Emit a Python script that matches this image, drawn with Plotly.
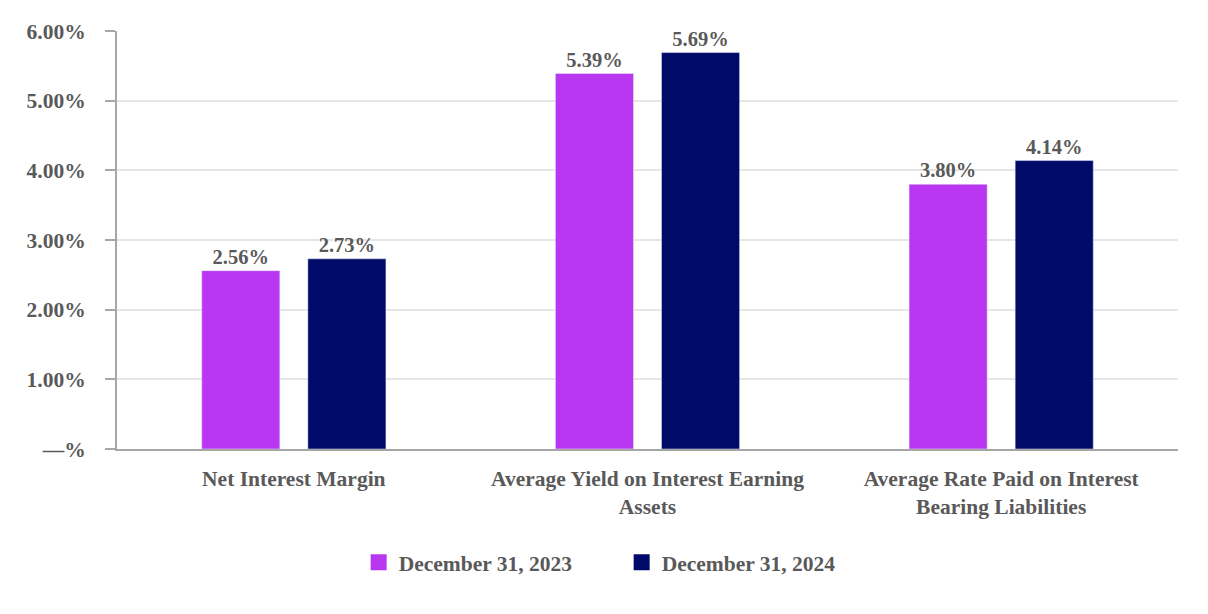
import plotly.graph_objects as go

categories = ["Net Interest Margin",
              "Average Yield on Interest Earning<br>Assets",
              "Average Rate Paid on Interest<br>Bearing Liabilities"]
series_names = ["December 31, 2023", "December 31, 2024"]
values_2023 = [2.56, 5.39, 3.80]
values_2024 = [2.73, 5.69, 4.14]
tick_vals = [0, 1, 2, 3, 4, 5, 6]
tick_text = ["—%", "1.00%", "2.00%", "3.00%", "4.00%", "5.00%", "6.00%"]

colors = ["#B937F1", "#000A68"]
FONT = "Liberation Serif"
GRAY = "#595959"
fnt = dict(family=FONT, size=21.5, color=GRAY, weight="bold")
lblfnt = dict(family=FONT, size=20.5, color=GRAY, weight="bold")

fig = go.Figure()
for name, vals, c in zip(series_names, [values_2023, values_2024], colors):
    fig.add_trace(go.Bar(
        x=categories, y=vals, name=name, marker_color=c,
        text=[f"{v:.2f}%" for v in vals], textposition="outside",
        textfont=lblfnt, outsidetextfont=lblfnt,
        cliponaxis=False, showlegend=False,
    ))
    fig.add_trace(go.Scatter(
        x=[None], y=[None], mode="markers", name=name,
        marker=dict(symbol="square", size=21, color=c),
    ))

fig.update_layout(
    width=1208, height=614,
    margin=dict(l=109, r=38, t=23, b=173),
    plot_bgcolor="white", paper_bgcolor="white",
    barmode="group", bargap=0.40, bargroupgap=0.264,
    font=fnt,
    legend=dict(orientation="h", xref="container", x=0.508, xanchor="center",
                yref="container", y=0.064, yanchor="bottom",
                font=fnt,
                entrywidth=218, entrywidthmode="pixels", itemsizing="trace"),
)
fig.update_yaxes(range=[0, 6], tickvals=tick_vals, ticktext=tick_text,
                 showgrid=True, gridcolor="#E6E6E6", gridwidth=2,
                 showline=True, linecolor="#A6A6A6", linewidth=2,
                 ticks="outside", ticklen=10, tickcolor="#A6A6A6", tickwidth=2,
                 tickfont=fnt, zeroline=False, ticklabelstandoff=15)
fig.update_xaxes(showline=True, linecolor="#A6A6A6", linewidth=2,
                 tickfont=fnt, ticks="", ticklabelstandoff=9)

fig.write_html("out.html")
